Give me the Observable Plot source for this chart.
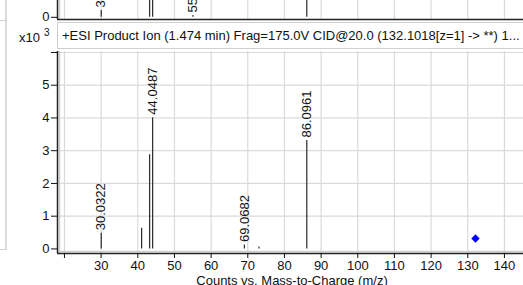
<!DOCTYPE html>
<html>
<head>
<meta charset="utf-8">
<script src="https://cdn.jsdelivr.net/npm/d3@7"></script>
<script src="https://cdn.jsdelivr.net/npm/@observablehq/plot@0.6"></script>
<style>
  body { margin: 0; background: #fff; }
  #wrap { position: relative; width: 523px; height: 285px; overflow: hidden; background: #fff;
          font-family: "Liberation Sans", Arial, sans-serif; color: #111; }
  #topchart { position: absolute; left: 0; top: 0; width: 523px; height: 25px; overflow: hidden; }
  #bottomchart { position: absolute; left: 0; top: 22px; width: 523px; height: 263px; overflow: hidden; }
  #title { position: absolute; left: 57px; top: 22px; width: 480px; height: 27px; background: #fff;
           border: 1px solid #cfcfcf; box-sizing: border-box; font-size: 13px; line-height: 26px;
           padding-left: 4px; white-space: nowrap; }
  #scale { position: absolute; left: 19px; top: 28px; font-size: 13px; white-space: nowrap; }
  #scale sup { font-size: 10px; position: relative; top: -1px; margin-left: 4px; }
  #xtitle { position: absolute; left: 57px; width: 470px; top: 273px; text-align: center; font-size: 13px;
            line-height: 15px; white-space: nowrap; }
  #leftpanel { position: absolute; left: 0; top: 0; width: 5px; height: 249px; border-right: 2px solid #dcdcdc;
               border-bottom: 1px solid #cfcfcf; }
  #leftpanel2 { position: absolute; left: 0; top: 20px; width: 7px; height: 1px; background: #d0d0d0; }
</style>
</head>
<body>
<div id="wrap">
  <div id="leftpanel"></div>
  <div id="leftpanel2"></div>
  <div id="topchart"></div>
  <div id="bottomchart"></div>
  <div id="title"></div>
  <div id="scale"></div>
  <div id="xtitle"></div>
</div>
<script>
// ---- data ----
const mzTicks = [20, 30, 40, 50, 60, 70, 80, 90, 100, 110, 120, 130, 140];
const xTickLabels = ["", "30", "40", "50", "60", "70", "80", "90", "100", "110", "120", "130", "140"];
const xDomain = [18.1, 145.2];

const yTicks = [0, 1, 2, 3, 4, 5, 6];
const yTickLabels = ["0", "1", "2", "3", "4", "5", ""];
const yDomain = [-0.14, 6.03];

// product ion spectrum (counts x10^3)
const peakMz = [30.0322, 41.04, 43.23, 44.0487, 69.0682, 73.05, 86.0961];
const peakCounts = [0.48, 0.63, 2.88, 4.01, 0.12, 0.06, 3.31];
const peakLabels = ["30.0322", "", "", "44.0487", "69.0682", "", "86.0961"];

const precursorMz = [132.1018];
const precursorCounts = [0.32];

// partially visible spectrum above
const topTicks = [0];
const topTickLabels = ["0"];
const topDomain = [-0.11, 0.84];
const topPeakMz = [30.0322, 43.23, 44.0487, 55.0542, 86.0961];
const topPeakCounts = [0.34, 3.0, 3.0, 0.09, 3.0];
const topPeakLabels = ["30.0322", "", "", "55.0542", ""];

const titleText = "+ESI Product Ion (1.474 min) Frag=175.0V CID@20.0 (132.1018[z=1] -> **) 1...";
const scaleText = ["x10", "3"];
const axisTitle = "Counts vs. Mass-to-Charge (m/z)";

// ---- tables ----
const peaks = peakMz.map((mz, i) => ({mz, counts: peakCounts[i], label: peakLabels[i]}));
const precursor = precursorMz.map((mz, i) => ({mz, counts: precursorCounts[i]}));
const topPeaks = topPeakMz.map((mz, i) => ({mz, counts: topPeakCounts[i], label: topPeakLabels[i]}));

const font = '"Liberation Sans", Arial, sans-serif';
const common = {
  width: 523, marginLeft: 57, marginRight: 0,
  style: {fontFamily: font, fontSize: "13px", color: "#111", background: "transparent", overflow: "hidden"}
};
const gridColor = "#dadada";
const shadowColor = "#cdcdcd";
const barColor = "#2a2a2a";

const bottomPlot = Plot.plot({
  ...common,
  height: 263, marginTop: 29, marginBottom: 32,
  x: {domain: xDomain},
  y: {domain: yDomain},
  marks: [
    Plot.ruleX(mzTicks, {stroke: gridColor, strokeWidth: 1.2}),
    Plot.ruleY(yTicks.filter(d => d > 0), {stroke: gridColor, strokeWidth: 1.2}),
    Plot.ruleX([xDomain[0]], {dx: 2, stroke: shadowColor, strokeWidth: 1.5}),
    Plot.ruleY([yDomain[0]], {dy: -2, stroke: shadowColor, strokeWidth: 1.5}),
    Plot.ruleX(peaks, {x: "mz", y1: 0, y2: "counts", stroke: barColor, strokeWidth: 1.2}),
    Plot.text(peaks.filter(d => d.label), {x: "mz", y: "counts", text: "label", rotate: -90,
      textAnchor: "start", lineAnchor: "middle", dy: -3, fill: "#111", fontSize: 13}),
    Plot.dot(precursor, {x: "mz", y: "counts", symbol: "diamond2", r: 3.8, fill: "#0000ff"}),
    Plot.ruleX([xDomain[0]], {stroke: "#222", strokeWidth: 1.5}),
    Plot.ruleY([yDomain[0]], {stroke: "#222", strokeWidth: 1.5}),
    Plot.axisX({ticks: mzTicks, tickFormat: d => xTickLabels[mzTicks.indexOf(d)], tickSize: 5, tickPadding: 2, label: null}),
    Plot.axisY({ticks: yTicks, tickFormat: d => yTickLabels[yTicks.indexOf(d)], tickSize: 6, tickPadding: 2, label: null})
  ]
});
document.getElementById("bottomchart").appendChild(bottomPlot);

const topPlot = Plot.plot({
  ...common,
  height: 25, marginTop: 0, marginBottom: 6,
  x: {domain: xDomain},
  y: {domain: topDomain},
  marks: [
    Plot.ruleX(mzTicks, {stroke: gridColor, strokeWidth: 1.2}),
    Plot.ruleX([xDomain[0]], {dx: 2, stroke: shadowColor, strokeWidth: 1.5}),
    Plot.ruleX(topPeaks, {x: "mz", y1: 0, y2: "counts", stroke: barColor, strokeWidth: 1.2, clip: true}),
    Plot.text(topPeaks.filter(d => d.label), {x: "mz", y: "counts", text: "label", rotate: -90,
      textAnchor: "start", lineAnchor: "middle", dy: -3, fill: "#111", fontSize: 13}),
    Plot.ruleX([xDomain[0]], {stroke: "#222", strokeWidth: 1.5}),
    Plot.ruleY([topDomain[0]], {stroke: "#222", strokeWidth: 1.5}),
    Plot.axisX({ticks: [], label: null}),
    Plot.axisY({ticks: topTicks, tickFormat: d => topTickLabels[topTicks.indexOf(d)], tickSize: 6, tickPadding: 2, label: null})
  ]
});
document.getElementById("topchart").appendChild(topPlot);

document.getElementById("title").textContent = titleText;
const sc = document.getElementById("scale");
sc.appendChild(document.createTextNode(scaleText[0]));
const sup = document.createElement("sup");
sup.textContent = scaleText[1];
sc.appendChild(sup);
document.getElementById("xtitle").textContent = axisTitle;
</script>
</body>
</html>
